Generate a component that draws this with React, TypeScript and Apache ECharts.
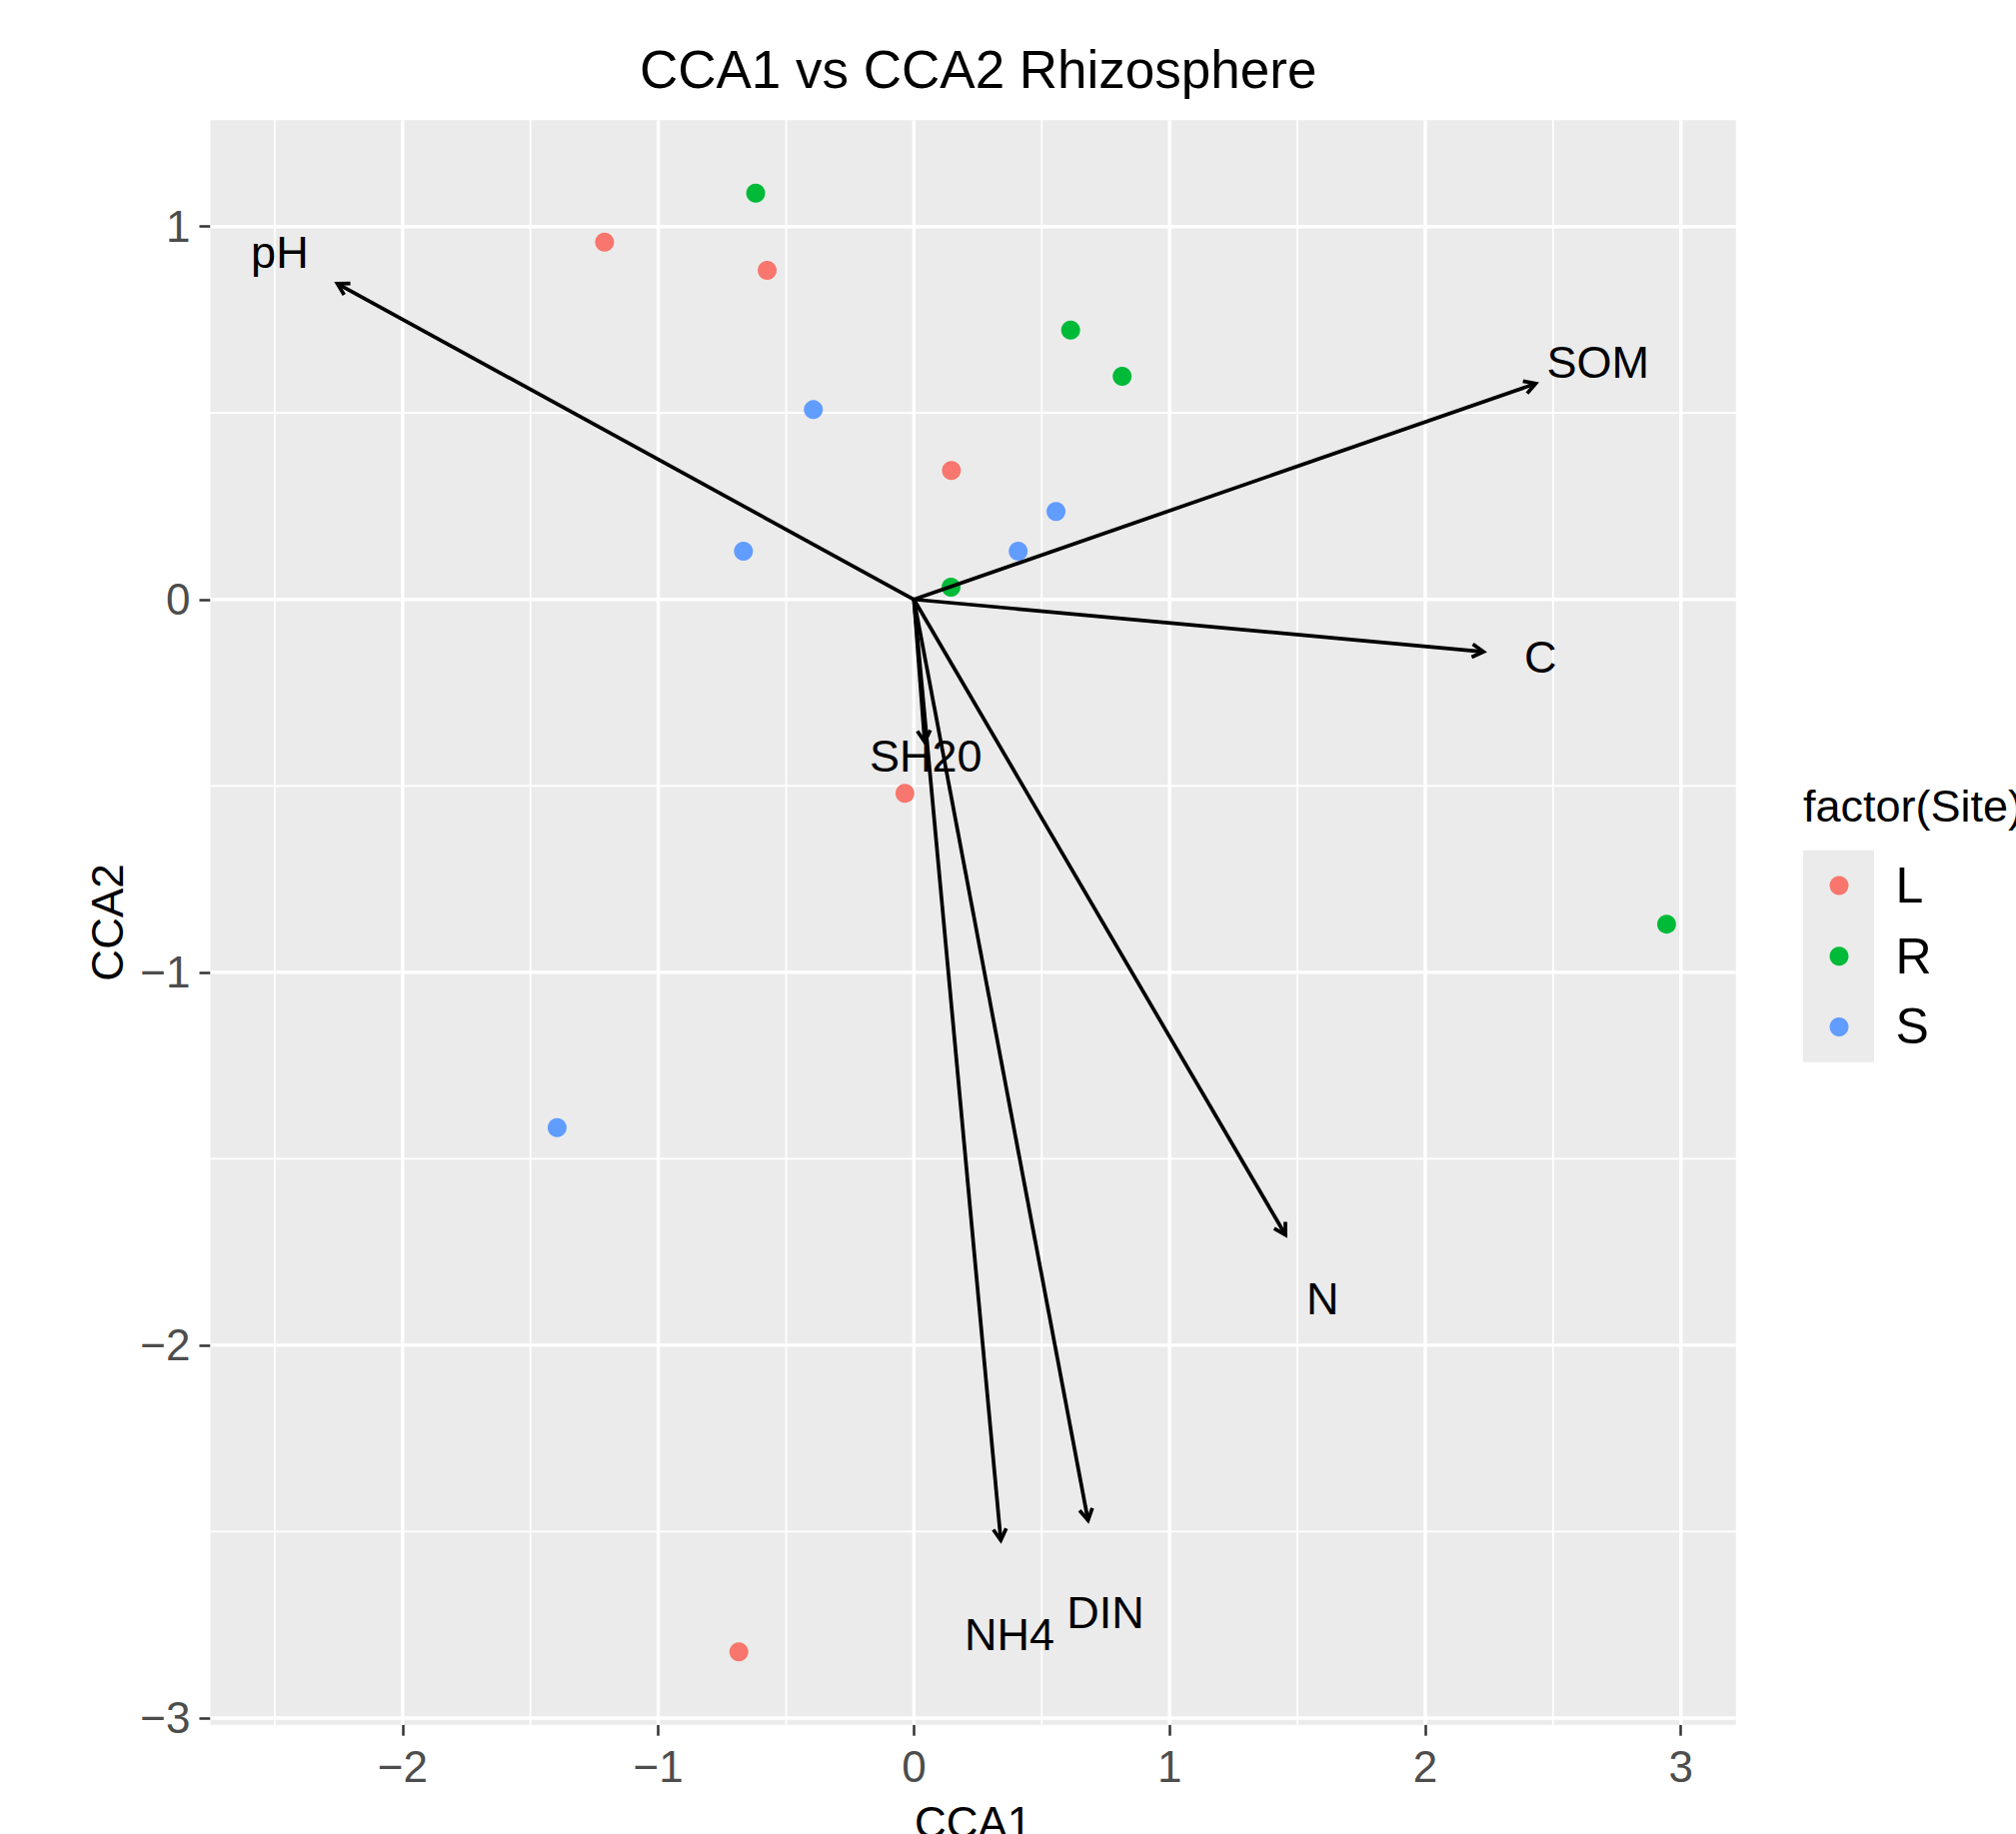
import React, { useEffect, useRef } from "react";
import * as echarts from "echarts";

// ---- data ----
const siteNames = ["L", "R", "S"];
const siteColors = ["#F8766D", "#00BA38", "#619CFF"];

const siteL = [
  [-1.21, 0.9585],
  [-0.574, 0.8824],
  [0.1465, 0.3457],
  [-0.0352, -0.5198],
  [-0.6848, -2.8224],
];
const siteR = [
  [-0.619, 1.0898],
  [0.6129, 0.7226],
  [0.8145, 0.5984],
  [0.145, 0.033],
  [2.944, -0.8708],
];
const siteS = [
  [-0.3934, 0.509],
  [0.5558, 0.2358],
  [0.4078, 0.1295],
  [-0.6668, 0.1295],
  [-1.3957, -1.4164],
];

const envNames = ["pH", "SOM", "C", "SH20", "N", "DIN", "NH4"];
const envCCA1 = [-2.2551, 2.432, 2.2277, 0.042, 1.4531, 0.681, 0.3398];
const envCCA2 = [0.8467, 0.5788, -0.1402, -0.382, -1.7042, -2.4697, -2.5233];
const labelScale = 1.1;

const xMajorTicks = [-2, -1, 0, 1, 2, 3];
const xMinorTicks = [-2.5, -1.5, -0.5, 0.5, 1.5, 2.5];
const yMajorTicks = [-3, -2, -1, 0, 1];
const yMinorTicks = [-2.5, -1.5, -0.5, 0.5];

const FONT = "'Liberation Sans', Arial, Helvetica, sans-serif";

function fmt(v: number) {
  return v < 0 ? "\u2212" + Math.abs(v) : String(v);
}

function expandRange(vals: number[]) {
  const mn = Math.min(...vals);
  const mx = Math.max(...vals);
  const pad = (mx - mn) * 0.05;
  return [mn - pad, mx + pad];
}

export default function App() {
  const ref = useRef<HTMLDivElement>(null);

  useEffect(() => {
    document.body.style.margin = "0";
    if (!ref.current) return;
    const chart = echarts.init(ref.current, undefined, { renderer: "svg" });

    const allPts = [...siteL, ...siteR, ...siteS];
    const xs = [
      ...allPts.map((p) => p[0]),
      ...envCCA1,
      ...envCCA1.map((v) => v * labelScale),
    ];
    const ys = [
      ...allPts.map((p) => p[1]),
      ...envCCA2,
      ...envCCA2.map((v) => v * labelScale),
    ];
    const [xMin, xMax] = expandRange(xs);
    const [yMin, yMax] = expandRange(ys);

    const gridLeft = 210.5;
    const gridTop = 120.2;
    const gridW = 1526.3;
    const gridH = 1605.5;

    const gridLineSeries = (vals: number[], dim: "x" | "y", width: number) => ({
      type: "custom",
      silent: true,
      z: 1,
      data: vals.map((v) => (dim === "x" ? [v, 0] : [0, v])),
      renderItem: (params: any, api: any) => {
        const cs = params.coordSys;
        if (dim === "x") {
          const px = api.coord([api.value(0), 0])[0];
          return {
            type: "line",
            shape: { x1: px, y1: cs.y, x2: px, y2: cs.y + cs.height },
            style: { stroke: "#FFFFFF", lineWidth: width },
          };
        }
        const py = api.coord([0, api.value(1)])[1];
        return {
          type: "line",
          shape: { x1: cs.x, y1: py, x2: cs.x + cs.width, y2: py },
          style: { stroke: "#FFFFFF", lineWidth: width },
        };
      },
    });

    const siteData = [siteL, siteR, siteS];

    const option: any = {
      animation: false,
      backgroundColor: "#FFFFFF",
      title: {
        text: "CCA1 vs CCA2 Rhizosphere",
        left: gridLeft + gridW / 2,
        top: 38,
        textAlign: "center",
        textStyle: {
          fontSize: 53,
          fontWeight: "normal",
          color: "#000000",
          fontFamily: FONT,
        },
      },
      grid: {
        left: gridLeft,
        top: gridTop,
        width: gridW,
        height: gridH,
        show: true,
        backgroundColor: "#EBEBEB",
        borderWidth: 0,
        containLabel: false,
        outerBoundsMode: "none",
      },
      xAxis: {
        type: "value",
        position: "bottom",
        min: xMin,
        max: xMax,
        axisLine: { show: false, onZero: false },
        axisTick: {
          show: true,
          customValues: xMajorTicks,
          length: 11,
          lineStyle: { color: "#333333", width: 2.5 },
        },
        axisLabel: {
          customValues: xMajorTicks,
          formatter: fmt,
          fontSize: 44,
          color: "#4D4D4D",
          margin: 19.5,
          fontFamily: FONT,
        },
        splitLine: { show: false },
        name: "CCA1",
        nameLocation: "middle",
        nameGap: 76,
        nameTextStyle: { fontSize: 44, color: "#000000", fontFamily: FONT },
      },
      yAxis: {
        type: "value",
        position: "left",
        min: yMin,
        max: yMax,
        axisLine: { show: false, onZero: false },
        axisTick: {
          show: true,
          customValues: yMajorTicks,
          length: 11,
          lineStyle: { color: "#333333", width: 2.5 },
        },
        axisLabel: {
          customValues: yMajorTicks,
          formatter: fmt,
          fontSize: 44,
          color: "#4D4D4D",
          margin: 20,
          fontFamily: FONT,
        },
        splitLine: { show: false },
        name: "CCA2",
        nameLocation: "middle",
        nameGap: 77,
        nameTextStyle: { fontSize: 44, color: "#000000", fontFamily: FONT },
      },
      legend: {
        data: siteNames.map((n) => ({ name: n, icon: "circle" })),
        orient: "vertical",
        left: 1830.5,
        top: 861,
        padding: 0,
        itemWidth: 19,
        itemHeight: 19,
        itemGap: 20.7,
        selectedMode: false,
        textStyle: {
          fontSize: 50,
          color: "#000000",
          fontFamily: FONT,
          padding: [0, 0, 0, 42],
        },
      },
      graphic: [
        {
          type: "rect",
          z: -1,
          shape: { x: 1804, y: 850.7, width: 71, height: 212 },
          style: { fill: "#EBEBEB" },
        },
        {
          type: "text",
          x: 1804,
          y: 806,
          style: {
            text: "factor(Site)",
            fontSize: 45,
            fill: "#000000",
            fontFamily: FONT,
            align: "left",
            verticalAlign: "middle",
          },
        },
      ],
      series: [
        gridLineSeries(xMinorTicks, "x", 1.7),
        gridLineSeries(yMinorTicks, "y", 1.7),
        gridLineSeries(xMajorTicks, "x", 3.4),
        gridLineSeries(yMajorTicks, "y", 3.4),
        ...siteNames.map((n, i) => ({
          type: "scatter",
          name: n,
          z: 3,
          symbol: "circle",
          symbolSize: 19,
          itemStyle: { color: siteColors[i], opacity: 1 },
          data: siteData[i],
        })),
        {
          type: "custom",
          name: "env",
          silent: true,
          z: 4,
          data: envNames.map((n, i) => [envCCA1[i], envCCA2[i]]),
          renderItem: (params: any, api: any) => {
            const i = params.dataIndex;
            const x = api.value(0);
            const y = api.value(1);
            const o = api.coord([0, 0]);
            const t = api.coord([x, y]);
            const l = api.coord([x * labelScale, y * labelScale]);
            const dx = t[0] - o[0];
            const dy = t[1] - o[1];
            const len = Math.hypot(dx, dy);
            const ux = -dx / len;
            const uy = -dy / len;
            const a = Math.PI / 6;
            const L = 13;
            const c = Math.cos(a);
            const s = Math.sin(a);
            const p1 = [t[0] + L * (ux * c - uy * s), t[1] + L * (ux * s + uy * c)];
            const p2 = [t[0] + L * (ux * c + uy * s), t[1] + L * (-ux * s + uy * c)];
            return {
              type: "group",
              children: [
                {
                  type: "line",
                  shape: { x1: o[0], y1: o[1], x2: t[0], y2: t[1] },
                  style: { stroke: "#000000", lineWidth: 3.7 },
                },
                {
                  type: "polyline",
                  shape: { points: [p1, t, p2] },
                  style: { stroke: "#000000", fill: "none", lineWidth: 3.7, lineJoin: "miter" },
                },
                {
                  type: "text",
                  x: l[0],
                  y: l[1],
                  style: {
                    text: envNames[i],
                    fontSize: 45,
                    fill: "#000000",
                    fontFamily: FONT,
                    align: "center",
                    verticalAlign: "middle",
                  },
                },
              ],
            };
          },
        },
      ],
    };

    chart.setOption(option);
    return () => chart.dispose();
  }, []);

  return (
    <div
      ref={ref}
      style={{ position: "fixed", left: 0, top: 0, width: 2017, height: 1835 }}
    />
  );
}
